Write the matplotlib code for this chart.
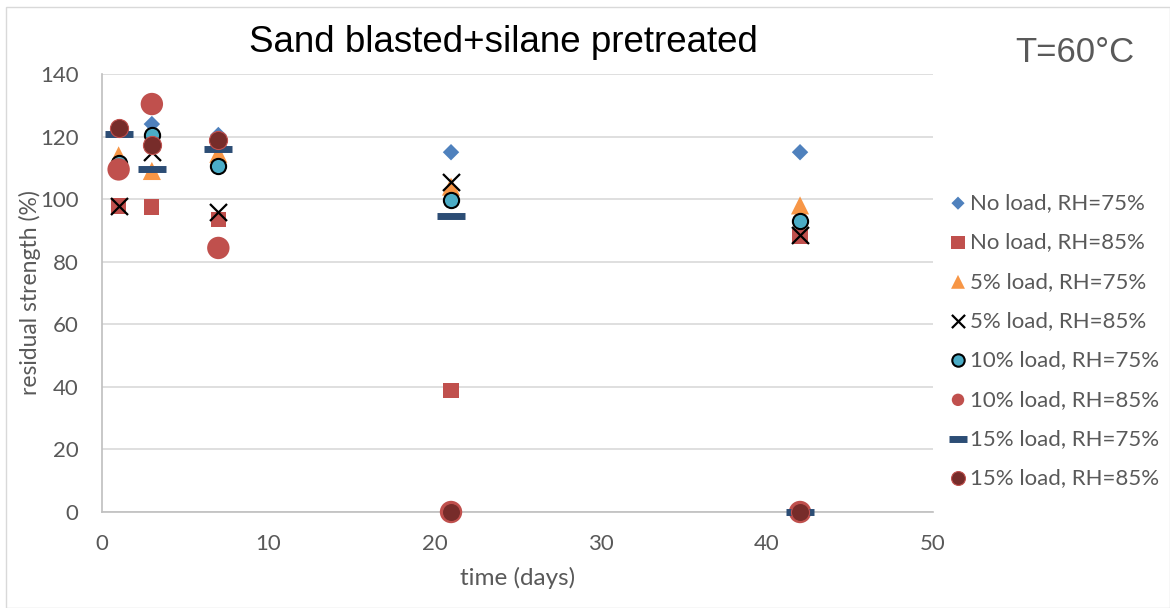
import matplotlib
matplotlib.use("Agg")
import matplotlib.pyplot as plt
from matplotlib.patches import Rectangle

days = [1, 3, 7, 21, 42]
labels = ["No load, RH=75%", "No load, RH=85%", "5% load, RH=75%", "5% load, RH=85%",
          "10% load, RH=75%", "10% load, RH=85%", "15% load, RH=75%", "15% load, RH=85%"]
noload_75 = [122.5, 124, 120.5, 115, 115]
noload_85 = [97.8, 97.5, 93.5, 38.8, 88]
load5_75 = [114, 109, 114.5, 104, 98]
load5_85 = [97.8, 115, 96, 105.5, 88.5]
load10_75 = [111.5, 120.5, 110.6, 99.7, 93]
load10_85 = [109.5, 130.4, 84.4, 0, 0]
load15_75 = [120.7, 109.7, 116, 94.7, 0]
load15_85 = [122.8, 117.3, 119, 0, 0]
series = [noload_75, noload_85, load5_75, load5_85, load10_75, load10_85, load15_75, load15_85]

styles = [
    dict(marker="D", s=70, c="#4F81BD", edgecolors="none"),
    dict(marker="s", s=120, c="#C0504D", edgecolors="none"),
    dict(marker="^", s=170, c="#F79646", edgecolors="none"),
    dict(marker="x", s=150, c="black", linewidths=1.6),
    dict(marker="o", s=120, c="#4BACC6", edgecolors="black", linewidths=1.5),
    dict(marker="o", s=260, c="#C0504D", edgecolors="none"),
    dict(marker="_", s=420, c="#2C4D75", linewidths=5),
    dict(marker="o", s=170, c="#772C2A", edgecolors="#C0504D", linewidths=0.8),
]
leg_sizes = [45, 100, 100, 90, 80, 80, 160, 100]

fig = plt.figure(figsize=(11.7, 6.08), dpi=100)
fig.patches.append(Rectangle((6/1170, 0), 1 - 6/1170, 1 - 7/608, transform=fig.transFigure,
                             fill=False, edgecolor="#D9D9D9", linewidth=1))
ax = fig.add_axes([102/1170, 1 - 512/608, (933 - 102)/1170, (512 - 74)/608])

handles = []
for vals, st, lab in zip(series, styles, labels):
    h = ax.scatter(days, vals, label=lab, zorder=3, clip_on=False, **st)
    handles.append(h)

ax.set_xlim(0, 50)
ax.set_ylim(0, 140)
ax.set_xticks(range(0, 51, 10))
ax.set_yticks(range(0, 141, 20))
ax.grid(axis="y", color="#D9D9D9", linewidth=1.2)
ax.set_axisbelow(True)
for s in ["top", "right"]:
    ax.spines[s].set_visible(False)
for s in ["left", "bottom"]:
    ax.spines[s].set_color("#BFBFBF")
    ax.spines[s].set_linewidth(1.2)
ax.tick_params(length=0, labelsize=16, colors="#595959")
ax.tick_params(axis="y", pad=17)
ax.tick_params(axis="x", pad=16)
for t in ax.get_xticklabels() + ax.get_yticklabels():
    t.set_fontfamily("Lato")
ax.set_xlabel("time (days)", fontsize=17.5, color="#595959", family="Lato", labelpad=9)
ax.set_ylabel("residual strength (%)", fontsize=16.5, color="#595959", family="Lato")
ax.yaxis.set_label_coords(-61/831, 0.5)

fig.text(503/1170, 1 - 42/608, "Sand blasted+silane pretreated", ha="center", va="center",
         fontsize=26.5, family="Liberation Sans", color="black")
fig.text(1075/1170, 1 - 52/608, "T=60°C", ha="center", va="center",
         fontsize=25, family="Liberation Sans", color="#595959")

leg = fig.legend(handles=handles, labels=labels, loc="upper left",
                 bbox_to_anchor=(948/1170, 1 - 193/608), frameon=False,
                 prop={"family": "Lato", "size": 16}, labelspacing=0.87,
                 handletextpad=0.1, handlelength=0.9, borderaxespad=0, borderpad=0,
                 scatterpoints=1)
for t in leg.get_texts():
    t.set_color("#595959")
for h, s in zip(leg.legend_handles, leg_sizes):
    h.set_sizes([s])

fig.savefig("out.png", dpi=100)
